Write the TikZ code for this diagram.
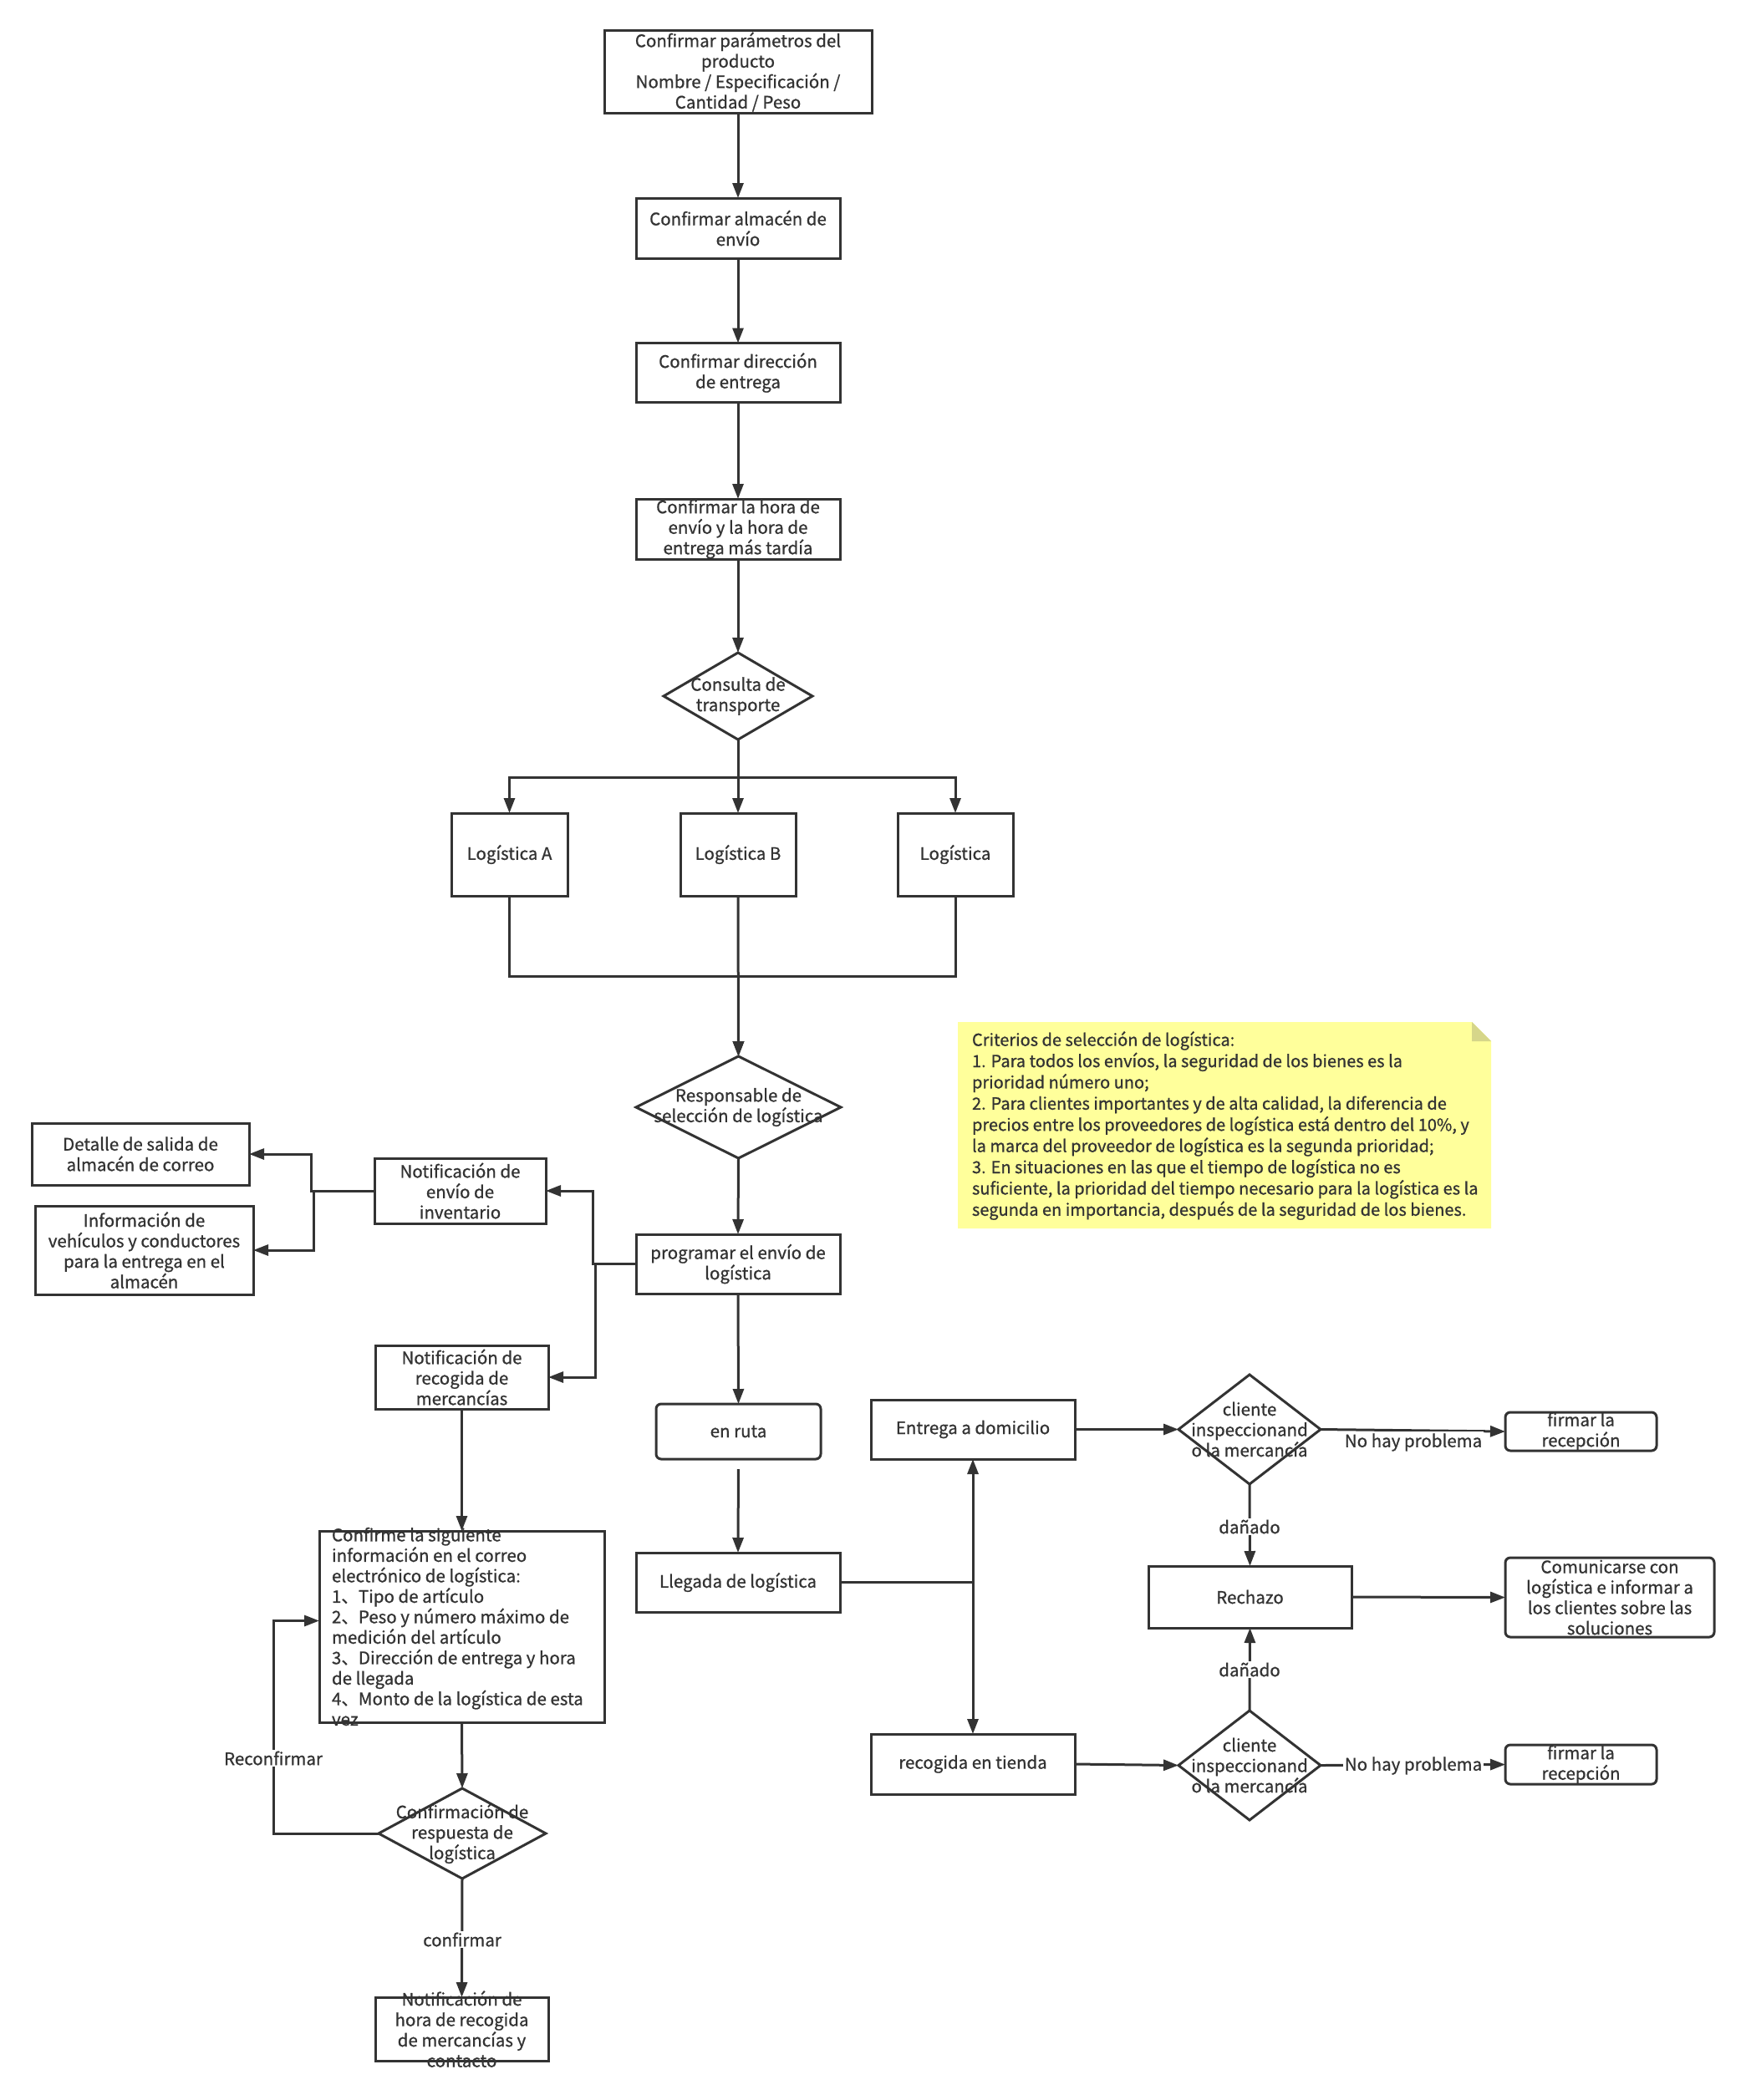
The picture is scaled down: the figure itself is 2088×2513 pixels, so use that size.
\documentclass[tikz,border=0pt]{standalone}
\usepackage{fontspec}
\setmainfont{Noto Sans CJK SC}[BoldFont={Noto Sans CJK SC}, BoldFeatures={FakeBold=0.8}]
\usetikzlibrary{arrows.meta,shapes.geometric,calc}
\definecolor{lc}{HTML}{333333}
\definecolor{notefill}{HTML}{FFFF9B}
\definecolor{notefold}{HTML}{D6D68A}
\begin{document}
\begin{tikzpicture}[x=1pt,y=-1pt,
  every node/.style={inner sep=0pt, outer sep=0pt},
  boxs/.style={draw=lc, line width=3pt, rectangle},
  rbox/.style={boxs, rounded corners=6pt},
  dia/.style={draw=lc, line width=3pt, diamond},
  txt/.style={text=lc, align=center, font=\fontsize{20.5}{24.5}\selectfont\bfseries},
  ntxt/.style={text=lc, align=left, font=\fontsize{20}{25.4}\selectfont\bfseries},
  lbl/.style={txt, fill=white, inner sep=2pt},
  arr/.style={draw=lc, line width=3pt, -{Triangle[length=18pt,width=13pt]}},
  plain/.style={draw=lc, line width=3pt},
]
\fill[white] (0,0) rectangle (2088,2513);
\useasboundingbox (0,0) rectangle (2088,2513);

% main column
\node[boxs, minimum width=320, minimum height=98] (b1) at (883,86) {};
\node[txt] (b1t) at (b1) {Confirmar parámetros del\\producto\\Nombre / Especificación /\\Cantidad / Peso};
\node[boxs, minimum width=244, minimum height=72] (b2) at (883,273) {};
\node[txt] (b2t) at (b2) {Confirmar almacén de\\envío};
\node[boxs, minimum width=244, minimum height=71] (b3) at (883,446) {};
\node[txt] (b3t) at (b3) {Confirmar dirección\\de entrega};
\node[boxs, minimum width=244, minimum height=72] (b4) at (883,633) {};
\node[txt] (b4t) at (b4) {Confirmar la hora de\\envío y la hora de\\entrega más tardía};
\node[dia, minimum width=178, minimum height=104] (d1) at (883,833) {};
\node[txt] (d1t) at (d1) {Consulta de\\transporte};

\node[boxs, minimum width=139, minimum height=99] (lA) at (609.5,1022.5) {};
\node[txt] (lAt) at (lA) {Logística A};
\node[boxs, minimum width=138, minimum height=99] (lB) at (883,1022.5) {};
\node[txt] (lBt) at (lB) {Logística B};
\node[boxs, minimum width=138, minimum height=99] (lC) at (1143,1022.5) {};
\node[txt] (lCt) at (lC) {Logística};

\node[dia, minimum width=245, minimum height=122] (d2) at (883.5,1325) {};
\node[boxs, minimum width=244, minimum height=71] (pr) at (883,1512.5) {};
\node[rbox, minimum width=197, minimum height=66] (er) at (883.5,1713) {};
\node[boxs, minimum width=244, minimum height=71] (ll) at (883,1893.5) {};

% left column
\node[boxs, minimum width=205, minimum height=78] (ne) at (550.5,1425) {};
\node[boxs, minimum width=260, minimum height=74] (dt) at (168,1381) {};
\node[boxs, minimum width=261, minimum height=106] (inf) at (172.5,1496) {};
\node[boxs, minimum width=207, minimum height=76] (nr) at (552.5,1648) {};
\node[boxs, minimum width=341, minimum height=229] (cf) at (552.5,1946.5) {};
\node[dia, minimum width=200, minimum height=108] (d3) at (553,2194) {};
\node[boxs, minimum width=207, minimum height=76] (nh) at (552.5,2428) {};

% right part
\node[boxs, minimum width=244, minimum height=71] (en) at (1164,1710.5) {};
\node[boxs, minimum width=244, minimum height=72] (rt) at (1164,2111) {};
\node[dia, minimum width=170, minimum height=131] (dc1) at (1495,1710.5) {};
\node[dia, minimum width=170, minimum height=131] (dc2) at (1495,2112.5) {};
\node[boxs, minimum width=243, minimum height=74] (re) at (1495.5,1911) {};
\node[rbox, minimum width=181, minimum height=46] (f1) at (1891.5,1713) {};
\node[rbox, minimum width=181, minimum height=47] (f2) at (1891.5,2111.5) {};
\node[rbox, minimum width=250, minimum height=95] (co) at (1926,1911.5) {};

% note
\fill[notefill] (1146,1223) -- (1761,1223) -- (1784,1246) -- (1784,1470) -- (1146,1470) -- cycle;
\fill[notefold] (1761,1223) -- (1761,1246) -- (1784,1246) -- cycle;
\node[ntxt, anchor=west] (nt) at (1163,1347) {Criterios de selección de logística:\\1. Para todos los envíos, la seguridad de los bienes es la\\prioridad número uno;\\2. Para clientes importantes y de alta calidad, la diferencia de\\precios entre los proveedores de logística está dentro del 10\%, y\\la marca del proveedor de logística es la segunda prioridad;\\3. En situaciones en las que el tiempo de logística no es\\suficiente, la prioridad del tiempo necesario para la logística es la\\segunda en importancia, después de la seguridad de los bienes.};

% connectors
\draw[arr] (b1.south) -- (b2.north);
\draw[arr] (b2.south) -- (b3.north);
\draw[arr] (b3.south) -- (b4.north);
\draw[arr] (b4.south) -- (d1.north);
\draw[arr] (d1.south) -- ++(0,45) -| (lA.north);
\draw[arr] (d1.south) -- (lB.north);
\draw[arr] (d1.south) -- ++(0,45) -| (lC.north);
\draw[arr] (lA.south) -- ++(0,96) -| (d2.north);
\draw[arr] (lC.south) -- ++(0,96) -| (d2.north);
\draw[arr] (lB.south) -- (d2.north);
\draw[arr] (d2.south) -- (pr.north);
\draw[arr] (pr.west) -- ++(-52,0) |- (ne.east);
\draw[arr] (pr.west) -- ++(-49,0) |- (nr.east);
\draw[arr] (ne.west) -- ++(-76,0) |- (dt.east);
\draw[arr] (ne.west) -- ++(-73,0) |- (inf.east);
\draw[arr] (nr.south) -- (cf.north);
\draw[arr] (cf.south) -- (d3.north);
\draw[arr] (d3.west) -- ++(-126,0) |- ($(cf.west)+(0,-7)$);
\draw[arr] (d3.south) -- (nh.north);
\draw[arr] (pr.south) -- (er.north);
\draw[arr, shorten <=12pt] (er.south) -- (ll.north);
\draw[arr] (ll.east) -| (en.south);
\draw[arr] (ll.east) -| (rt.north);
\draw[arr] (en.east) -- (dc1.west);
\draw[arr] (rt.east) -- (dc2.west);
\draw[arr] (dc1.east) -- (f1.west);
\draw[arr] (dc2.east) -- (f2.west);
\draw[arr] (dc1.south) -- (re.north);
\draw[arr] (dc2.north) -- (re.south);
\draw[arr] (re.east) -- (co.west);

% labels
\node[lbl] (lrc) at (327,2104) {Reconfirmar};
\node[lbl] (lcf) at (553,2321) {confirmar};
\node[lbl] (ld1) at (1495,1827) {dañado};
\node[lbl] (ld2) at (1495,1998) {dañado};
\node[lbl] (lnp1) at (1691,1726) {No hay problema};
\node[lbl] (lnp2) at (1691,2113) {No hay problema};

% texts on top
\node[txt] (d2t) at (d2) {Responsable de\\selección de logística};
\node[txt] (prt) at (pr) {programar el envío de\\logística};
\node[txt] (ert) at (er) {en ruta};
\node[txt] (llt) at (ll) {Llegada de logística};
\node[txt] (net) at (ne) {Notificación de\\envío de\\inventario};
\node[txt] (dtt) at (dt) {Detalle de salida de\\almacén de correo};
\node[txt] (inft) at (inf) {Información de\\vehículos y conductores\\para la entrega en el\\almacén};
\node[txt] (nrt) at (nr) {Notificación de\\recogida de\\mercancías};
\node[txt, align=left, anchor=west] (cft) at (397,1946.5) {Confirme la siguiente\\información en el correo\\electrónico de logística:\\1、Tipo de artículo\\2、Peso y número máximo de\\medición del artículo\\3、Dirección de entrega y hora\\de llegada\\4、Monto de la logística de esta\\vez};
\node[txt] (d3t) at (d3) {Confirmación de\\respuesta de\\logística};
\node[txt] (nht) at (nh) {Notificación de\\hora de recogida\\de mercancías y\\contacto};
\node[txt] (ent) at (en) {Entrega a domicilio};
\node[txt] (rtt) at (rt) {recogida en tienda};
\node[txt] (dc1t) at (dc1) {cliente\\inspeccionand\\o la mercancía};
\node[txt] (dc2t) at (dc2) {cliente\\inspeccionand\\o la mercancía};
\node[txt] (ret) at (re) {Rechazo};
\node[txt] (f1t) at (f1) {firmar la\\recepción};
\node[txt] (f2t) at (f2) {firmar la\\recepción};
\node[txt] (cot) at (co) {Comunicarse con\\logística e informar a\\los clientes sobre las\\soluciones};
\end{tikzpicture}
\end{document}
